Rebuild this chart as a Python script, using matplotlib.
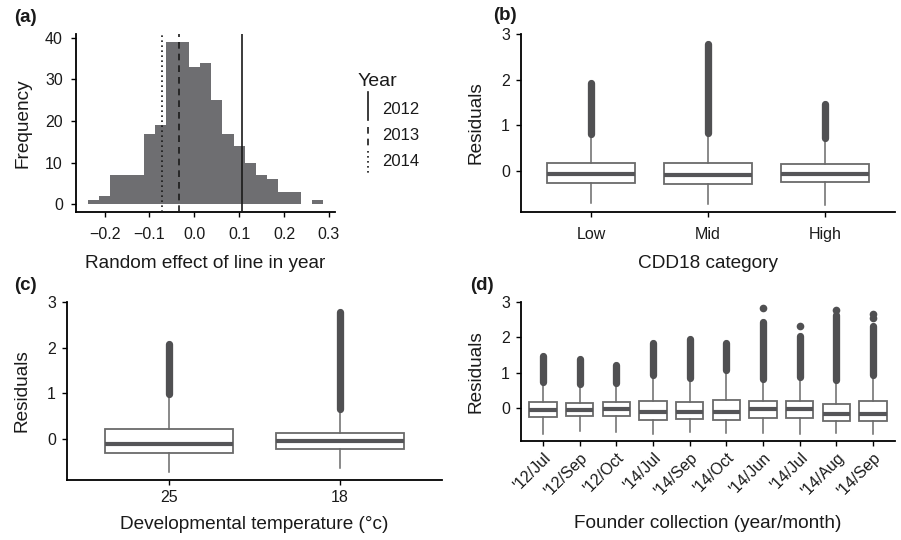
import matplotlib
matplotlib.use("Agg")
import matplotlib.pyplot as plt
import numpy as np

plt.rcParams['font.family'] = ['Liberation Sans', 'DejaVu Sans']

# (a) histogram of line random effects
hist_start = -0.2375
hist_width = 0.025
hist_counts = [1, 2, 7, 7, 7, 17, 19, 39, 39, 33, 34, 25, 17, 14, 10, 7, 6, 3, 3, 0, 1]
year_labels = ["2012", "2013", "2014"]
year_effects = [0.106, -0.034, -0.071]
year_styles = ["-", (0, (4, 3)), (0, (1, 2))]

# (b) residuals by CDD18 category
cdd_labels = ["Low", "Mid", "High"]
cdd_q1 = [-0.27, -0.29, -0.24]
cdd_med = [-0.066, -0.088, -0.066]
cdd_q3 = [0.168, 0.168, 0.153]
cdd_whislo = [-0.71, -0.72, -0.745]
cdd_whishi = [0.78, 0.82, 0.70]
cdd_out_lo = [0.80, 0.84, 0.72]
cdd_out_hi = [1.93, 2.79, 1.47]

# (c) residuals by developmental temperature
temp_labels = ["25", "18"]
temp_q1 = [-0.315, -0.234]
temp_med = [-0.11, -0.059]
temp_q3 = [0.205, 0.132]
temp_whislo = [-0.73, -0.64]
temp_whishi = [0.95, 0.64]
temp_out_lo = [0.97, 0.66]
temp_out_hi = [2.08, 2.79]

# (d) residuals by founder collection
fc_labels = ["'12/Jul", "'12/Sep", "'12/Oct", "'14/Jul", "'14/Sep",
             "'14/Oct", "'14/Jun", "'14/Jul", "'14/Aug", "'14/Sep"]
fc_q1 = [-0.255, -0.236, -0.22, -0.34, -0.32, -0.35, -0.28, -0.28, -0.377, -0.377]
fc_med = [-0.066, -0.066, -0.03, -0.12, -0.12, -0.113, -0.047, -0.038, -0.18, -0.18]
fc_q3 = [0.17, 0.14, 0.16, 0.20, 0.17, 0.236, 0.18, 0.19, 0.12, 0.18]
fc_whislo = [-0.73, -0.65, -0.69, -0.73, -0.68, -0.71, -0.70, -0.73, -0.71, -0.73]
fc_whishi = [0.70, 0.66, 0.68, 0.90, 0.83, 1.06, 0.81, 0.84, 0.78, 0.90]
fc_out_lo = [0.72, 0.68, 0.70, 0.92, 0.85, 1.08, 0.83, 0.86, 0.80, 0.92]
fc_out_hi = [1.47, 1.38, 1.22, 1.85, 1.96, 1.84, 2.42, 2.04, 2.62, 2.31]
fc_isolated = [[], [], [], [], [], [], [2.84], [2.33], [2.78], [2.56, 2.65]]

BAR = "#6e6e71"
OUT = "#505052"
BOXC = "#6a6a6a"
TXT = "#1a1a1a"
TICK_FS = 11.5
LAB_FS = 13.7

fig = plt.figure(figsize=(9.01, 5.40), dpi=100)


def px_axes(left, top, right, bottom):
    W, H = 901, 540
    return fig.add_axes([left / W, 1 - bottom / H, (right - left) / W, (bottom - top) / H])


def style(ax, xpad=3, ypad=4):
    for s in ("top", "right"):
        ax.spines[s].set_visible(False)
    for s in ("left", "bottom"):
        ax.spines[s].set_linewidth(1.3)
        ax.spines[s].set_color("black")
    ax.tick_params(length=3.5, width=1.0, colors="black", labelcolor=TXT,
                   labelsize=TICK_FS)
    ax.tick_params(axis="x", pad=xpad)
    ax.tick_params(axis="y", pad=ypad)


def draw_boxes(ax, q1, med, q3, wlo, whi, olo, ohi, iso=None, width=0.75, ms=5):
    stats = []
    for i in range(len(med)):
        stats.append(dict(q1=q1[i], med=med[i], q3=q3[i], whislo=wlo[i],
                          whishi=whi[i], fliers=[]))
    pos = np.arange(1, len(med) + 1)
    ax.bxp(stats, positions=pos, widths=width, showcaps=False, showfliers=False,
           patch_artist=True,
           boxprops=dict(facecolor="white", edgecolor=BOXC, linewidth=1.3),
           whiskerprops=dict(color=BOXC, linewidth=1.1),
           medianprops=dict(color="#555558", linewidth=3.0, solid_capstyle="butt"))
    for i, p in enumerate(pos):
        ax.plot([p, p], [olo[i], ohi[i]], color=OUT, lw=ms * 1.05,
                solid_capstyle="round", zorder=3)
        if iso is not None and iso[i]:
            ax.plot([p] * len(iso[i]), iso[i], "o", color=OUT, ms=ms + 0.5,
                    mec="none", zorder=3)
    ax.set_xlim(0.4, len(med) + 0.6)


# ---- (a)
ax = px_axes(76, 34, 335, 212)
style(ax, xpad=7.5, ypad=6)
edges = hist_start + hist_width * np.arange(len(hist_counts))
ax.bar(edges, hist_counts, width=hist_width, align="edge", color=BAR, linewidth=0)
for xv, ls in zip(year_effects, year_styles):
    ax.axvline(xv, color="#1a1a1a", lw=1.2, linestyle=ls, zorder=3)
ax.set_xlim(-0.26375, 0.31375)
ax.set_ylim(-1.8, 40.9)
ax.set_xticks([-0.2, -0.1, 0.0, 0.1, 0.2, 0.3])
ax.set_xticklabels(["\u22120.2", "\u22120.1", "0.0", "0.1", "0.2", "0.3"])
ax.set_yticks([0, 10, 20, 30, 40])
ax.set_xlabel("Random effect of line in year", fontsize=LAB_FS, color=TXT, labelpad=9)
ax.set_ylabel("Frequency", fontsize=LAB_FS, color=TXT, labelpad=10)

# legend drawn by hand with vertical keys, like ggplot vline keys
fig.text(358 / 901, 1 - 82 / 540, "Year", fontsize=14, color=TXT, va="center")
key_spans = [(92, 120), (127, 147), (151, 173)]
for i, (lab, ls) in enumerate(zip(year_labels, year_styles)):
    yc = 109 + 26.5 * i
    y0, y1 = key_spans[i]
    fig.add_artist(plt.Line2D([368 / 901, 368 / 901],
                              [1 - y0 / 540, 1 - y1 / 540],
                              color="#1a1a1a", lw=1.2, linestyle=ls))
    fig.text(382 / 901, 1 - yc / 540, lab, fontsize=12, color=TXT, va="center")

# ---- (b)
ax = px_axes(521, 34, 895, 212)
style(ax, xpad=7.5, ypad=4.5)
draw_boxes(ax, cdd_q1, cdd_med, cdd_q3, cdd_whislo, cdd_whishi, cdd_out_lo, cdd_out_hi)
ax.set_ylim(-0.9, 3.0)
ax.set_yticks([0, 1, 2, 3])
ax.set_xticks([1, 2, 3])
ax.set_xticklabels(cdd_labels)
ax.set_xlabel("CDD18 category", fontsize=LAB_FS, color=TXT, labelpad=9)
ax.set_ylabel("Residuals", fontsize=LAB_FS, color=TXT, labelpad=12)

# ---- (c)
ax = px_axes(67, 302, 442, 480)
style(ax, xpad=3.5, ypad=4.5)
draw_boxes(ax, temp_q1, temp_med, temp_q3, temp_whislo, temp_whishi, temp_out_lo, temp_out_hi)
ax.set_ylim(-0.91, 3.0)
ax.set_yticks([0, 1, 2, 3])
ax.set_xticks([1, 2])
ax.set_xticklabels(temp_labels)
ax.set_xlabel("Developmental temperature (\u00b0c)", fontsize=LAB_FS, color=TXT, labelpad=8)
ax.set_ylabel("Residuals", fontsize=LAB_FS, color=TXT, labelpad=12)

# ---- (d)
ax = px_axes(521, 302, 895, 441)
style(ax, xpad=3, ypad=4.5)
draw_boxes(ax, fc_q1, fc_med, fc_q3, fc_whislo, fc_whishi, fc_out_lo, fc_out_hi,
           iso=fc_isolated, ms=5)
ax.set_ylim(-0.94, 3.0)
ax.set_yticks([0, 1, 2, 3])
ax.set_xticks(np.arange(1, len(fc_labels) + 1))
ax.set_xticklabels(fc_labels, rotation=45, ha="right", rotation_mode="anchor")
ax.set_xlabel("Founder collection (year/month)", fontsize=LAB_FS, color=TXT, labelpad=12)
ax.set_ylabel("Residuals", fontsize=LAB_FS, color=TXT, labelpad=12)

# panel letters
for lab, x, y in [("(a)", 14, 18), ("(b)", 493, 15), ("(c)", 14, 285), ("(d)", 470, 285)]:
    fig.text(x / 901, 1 - y / 540, lab, fontsize=13.5, fontweight="bold", color=TXT, va="center")

fig.savefig("out.png", dpi=100)
